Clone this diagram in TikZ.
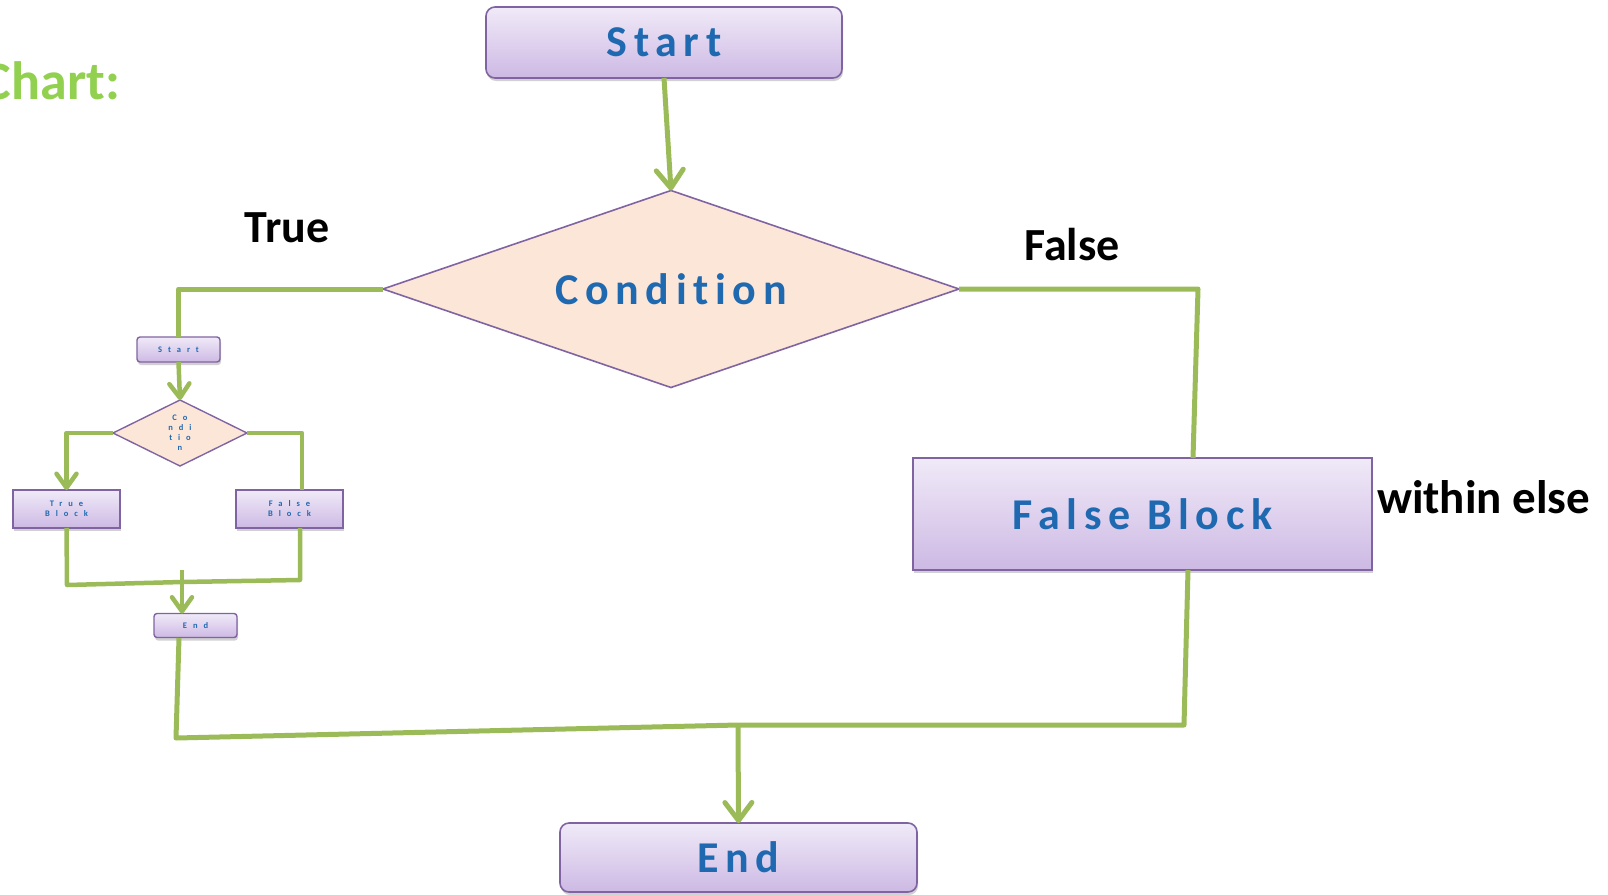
\documentclass[tikz,border=0pt]{standalone}
\usepackage{fontspec}
\usetikzlibrary{shapes.geometric,arrows.meta,shadows}
\setmainfont{Carlito}
\newfontfamily\boxfont{Carlito}[LetterSpace=15,Ligatures=NoCommon]
\newfontfamily\minifont{Carlito}[LetterSpace=70,Ligatures=NoCommon]

\definecolor{flowgreen}{HTML}{9BBB59}
\definecolor{boxedge}{HTML}{8064A2}
\definecolor{boxtop}{HTML}{F0EAF8}
\definecolor{boxbottom}{HTML}{CDB9E4}
\definecolor{decfill}{HTML}{FCE6D8}
\definecolor{boxtext}{HTML}{1F69B1}
\definecolor{titlegreen}{HTML}{92D050}

\tikzset{
  every node/.style={inner sep=0pt, outer sep=0pt},
  softshadow/.style={drop shadow={shadow xshift=1pt, shadow yshift=-3pt, opacity=0.3, fill=black!60}},
  termbox/.style={rectangle, rounded corners=9pt, draw=boxedge, line width=1.6pt,
    top color=boxtop, bottom color=boxbottom, softshadow,
    font=\boxfont\bfseries\fontsize{44}{48}\selectfont, text=boxtext},
  blockbox/.style={rectangle, draw=boxedge, line width=1.6pt,
    top color=boxtop, bottom color=boxbottom, softshadow,
    font=\boxfont\bfseries\fontsize{44}{48}\selectfont, text=boxtext},
  decision/.style={diamond, aspect=2.9, draw=boxedge, line width=1.6pt, fill=decfill,
    font=\boxfont\bfseries\fontsize{44}{48}\selectfont, text=boxtext},
  minibox/.style={rectangle, draw=boxedge, line width=1.4pt,
    top color=boxtop, bottom color=boxbottom, softshadow, align=center,
    font=\minifont\bfseries\fontsize{8.5}{10}\selectfont, text=boxtext},
  miniterm/.style={minibox, rounded corners=3pt},
  minidec/.style={diamond, aspect=2, draw=boxedge, line width=1.4pt, fill=decfill, align=center,
    font=\minifont\bfseries\fontsize{8.5}{10}\selectfont, text=boxtext},
  flow/.style={draw=flowgreen, line width=5pt, line join=round},
  minifl/.style={draw=flowgreen, line width=4.5pt, line join=round},
  tip/.style={-{Straight Barb[length=18pt,width=27pt,line cap=round,round]}},
  minitip/.style={-{Straight Barb[length=14pt,width=20pt,line cap=round,round]}},
  branch/.style={font=\bfseries\fontsize{46}{50}\selectfont, text=black},
}

\begin{document}
\begin{tikzpicture}[x=1pt,y=-1pt]
\useasboundingbox (0,0) rectangle (1608,894);

% title fragment at the left edge
\node[anchor=base east, font=\bfseries\fontsize{54}{58}\selectfont, text=titlegreen] (title) at (120,99) {Chart:};

% main flow
\node[termbox, minimum width=356pt, minimum height=71pt] (start) at (664,42.5) {Start};
\node[decision, minimum width=576pt, minimum height=197pt] (cond) at (671,289) {Condition};
\node[blockbox, minimum width=459pt, minimum height=112pt] (fblock) at (1142.5,514) {False Block};
\node[termbox, minimum width=357pt, minimum height=69pt] (end) at (738.5,857.5) {End};

% branch labels
\node[branch, anchor=base] (truelbl) at (287,242) {True};
\node[branch, anchor=base] (falselbl) at (1072,260) {False};
\node[branch, anchor=base west, font=\bfseries\fontsize{47}{50}\selectfont] (elselbl) at (1377,513) {within else};

% nested flow chart inside the true branch
\node[miniterm, minimum width=83pt, minimum height=25pt] (mstart) at (178.5,349.5) {Start};
\node[minidec, minimum width=134pt, minimum height=66pt] (mcond) at (180,433) {Co\\ndi\\tio\\n};
\node[minibox, minimum width=107pt, minimum height=38pt] (mtrue) at (66.5,509) {True\\Block};
\node[minibox, minimum width=107pt, minimum height=38pt] (mfalse) at (289.5,509) {False\\Block};
\node[miniterm, minimum width=83pt, minimum height=24pt] (mend) at (195.5,625.5) {End};

% coordinates of the connector bends
\coordinate (rtop) at (1198,289);
\coordinate (rin) at (1193,458);
\coordinate (rout) at (1188,570);
\coordinate (rbot) at (1184,725);
\coordinate (join) at (738,725);
\coordinate (lbot) at (176,738);
\coordinate (mendout) at (179,638);
\coordinate (mright) at (302,433);
\coordinate (mrightin) at (302,490);
\coordinate (mtl) at (67,585);
\coordinate (mjoin) at (182,582);
\coordinate (mtr) at (300,580);
\coordinate (mfout) at (300,528);
\coordinate (mjtop) at (182,570);

% main connectors
\draw[flow, tip] (start.south) -- (cond.north);
\draw[flow] (cond.west) -| (mstart.north);
\draw[flow] (cond.east) -- (rtop) -- (rin);
\draw[flow] (rout) -- (rbot) -- (join) -- (lbot) -- (mendout);
\draw[flow, tip] (join) -- (end.north);

% nested connectors
\draw[minifl, minitip] (mstart.south) -- (mcond.north);
\draw[minifl, minitip] (mcond.west) -| (mtrue.north);
\draw[minifl] (mcond.east) -- (mright) -- (mrightin);
\draw[minifl] (mtrue.south) -- (mtl) -- (mjoin) -- (mtr) -- (mfout);
\draw[minifl, minitip] (mjtop) -- (mjtop |- mend.north);
\end{tikzpicture}
\end{document}
